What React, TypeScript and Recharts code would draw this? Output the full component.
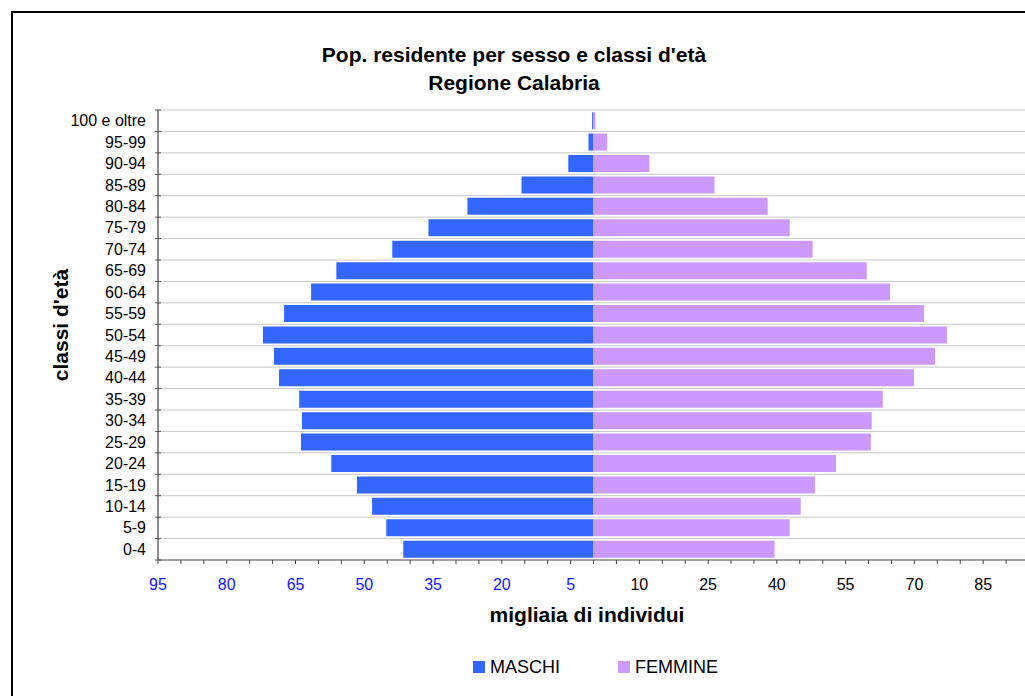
import { BarChart, Bar, XAxis, YAxis, CartesianGrid, Legend } from 'recharts'

// age classes, top to bottom as in the pyramid
const ageClasses = [
  '100 e oltre', '95-99', '90-94', '85-89', '80-84', '75-79', '70-74',
  '65-69', '60-64', '55-59', '50-54', '45-49', '40-44', '35-39',
  '30-34', '25-29', '20-24', '15-19', '10-14', '5-9', '0-4',
]

// thousands of residents
const maschi = [
  0.3, 1.1, 5.5, 15.7, 27.5, 36.0, 43.9, 56.1, 61.6, 67.5, 72.1,
  69.7, 68.6, 64.2, 63.6, 63.8, 57.2, 51.6, 48.3, 45.2, 41.5,
]
const femmine = [
  0.4, 3.0, 12.2, 26.4, 38.0, 42.8, 47.8, 59.6, 64.7, 72.1, 77.1,
  74.5, 69.9, 63.1, 60.7, 60.5, 52.9, 48.3, 45.2, 42.8, 39.5,
]

const seriesNames = ['MASCHI', 'FEMMINE']

const xTicks = [
  -95, -90, -85, -80, -75, -70, -65, -60, -55, -50, -45, -40, -35, -30, -25,
  -20, -15, -10, -5, 0, 5, 10, 15, 20, 25, 30, 35, 40, 45, 50, 55, 60, 65,
  70, 75, 80, 85, 90, 95,
]
const labelledTicks = [-95, -80, -65, -50, -35, -20, -5, 10, 25, 40, 55, 70, 85]

const FONT = '"Liberation Sans", Arial, sans-serif'
const BLUE = '#3366ff'
const LILAC = '#cc99ff'

const chartData = ageClasses.map((classe, i) => ({
  classe,
  maschi: -maschi[i],
  femmine: femmine[i],
}))

function ValueTick({ x, y, payload }: any) {
  const v = payload.value
  if (!labelledTicks.includes(v)) return <g />
  return (
    <text
      x={x}
      y={y + 24}
      textAnchor="middle"
      fontSize={16}
      fontFamily={FONT}
      fill={v < 0 ? '#1414ff' : '#000'}
    >
      {Math.abs(v)}
    </text>
  )
}

function AgeTick({ x, y, payload }: any) {
  const half = payload.offset ?? 0
  const isLast = payload.value === ageClasses[ageClasses.length - 1]
  return (
    <g>
      <line x1={x + 9} x2={x + 15} y1={y - half} y2={y - half} stroke="#555" />
      {isLast && <line x1={x + 9} x2={x + 15} y1={y + half} y2={y + half} stroke="#555" />}
      <text
        x={x}
        y={y}
        textAnchor="end"
        dominantBaseline="central"
        fontSize={16}
        fontFamily={FONT}
        fill="#000"
      >
        {payload.value}
      </text>
    </g>
  )
}

function LegendContent({ payload }: any) {
  // keep MASCHI first, as in the original
  const items = [...(payload || [])].sort(
    (a: any, b: any) => seriesNames.indexOf(a.value) - seriesNames.indexOf(b.value)
  )
  return (
    <div style={{ display: 'flex', alignItems: 'center', fontFamily: FONT, fontSize: 18, lineHeight: '20px' }}>
      {items.map((item: any) => (
        <div key={item.value} style={{ display: 'flex', alignItems: 'center', marginRight: 58 }}>
          <span style={{ display: 'inline-block', width: 12, height: 12, background: item.color, marginRight: 5 }} />
          <span style={{ color: '#000' }}>{item.value}</span>
        </div>
      ))}
    </div>
  )
}

export default function App() {
  const bands = ageClasses.length
  return (
    <div
      style={{
        position: 'fixed',
        left: 0,
        top: 0,
        width: 1025,
        height: 696,
        overflow: 'hidden',
        background: '#fff',
        fontFamily: FONT,
      }}
    >
      {/* chart frame, runs off the right and bottom edges */}
      <div
        style={{
          position: 'absolute',
          left: 11,
          top: 11,
          width: 1100,
          height: 800,
          border: '2px solid #000',
        }}
      />

      <div
        style={{
          position: 'absolute',
          left: 0,
          top: 41,
          width: 1028,
          textAlign: 'center',
          fontWeight: 'bold',
          fontSize: 21,
          lineHeight: '28px',
          color: '#000',
        }}
      >
        Pop. residente per sesso e classi d'età
        <br />
        Regione Calabria
      </div>

      <div style={{ position: 'absolute', left: 0, top: 0 }}>
        <BarChart
          width={1029}
          height={696}
          data={chartData}
          layout="vertical"
          stackOffset="sign"
          barCategoryGap="10%"
          margin={{ top: 110, right: 0, bottom: 106, left: 0 }}
        >
          <CartesianGrid
            vertical={false}
            stroke="#c8c8c8"
            horizontalCoordinatesGenerator={({ offset }: any) =>
              ageClasses.map((_, i) => offset.top + (i * offset.height) / bands)
            }
          />
          <XAxis
            type="number"
            domain={[-95, 95]}
            ticks={xTicks}
            interval={0}
            allowDataOverflow
            height={30}
            tickSize={4}
            tickMargin={2}
            axisLine={{ stroke: '#444' }}
            tickLine={{ stroke: '#444' }}
            tick={<ValueTick />}
          />
          <YAxis
            type="category"
            dataKey="classe"
            width={158}
            interval={0}
            tickSize={8}
            tickMargin={4}
            tickLine={false}
            axisLine={{ stroke: '#666', strokeWidth: 1.5 }}
            tick={<AgeTick />}
          />
          <Legend
            layout="horizontal"
            verticalAlign="middle"
            align="center"
            wrapperStyle={{ left: 473, top: 657, width: 'auto' }}
            content={<LegendContent />}
          />
          <Bar dataKey="maschi" name="MASCHI" stackId="pop" fill={BLUE} isAnimationActive={false} />
          <Bar dataKey="femmine" name="FEMMINE" stackId="pop" fill={LILAC} isAnimationActive={false} />
        </BarChart>
      </div>

      <div
        style={{
          position: 'absolute',
          left: 587,
          top: 615,
          transform: 'translate(-50%, -50%)',
          fontWeight: 'bold',
          fontSize: 21,
          whiteSpace: 'nowrap',
          color: '#000',
        }}
      >
        migliaia di individui
      </div>

      <div
        style={{
          position: 'absolute',
          left: 61,
          top: 325,
          transform: 'translate(-50%, -50%) rotate(-90deg)',
          fontWeight: 'bold',
          fontSize: 21,
          whiteSpace: 'nowrap',
          color: '#000',
        }}
      >
        classi d'età
      </div>
    </div>
  )
}
